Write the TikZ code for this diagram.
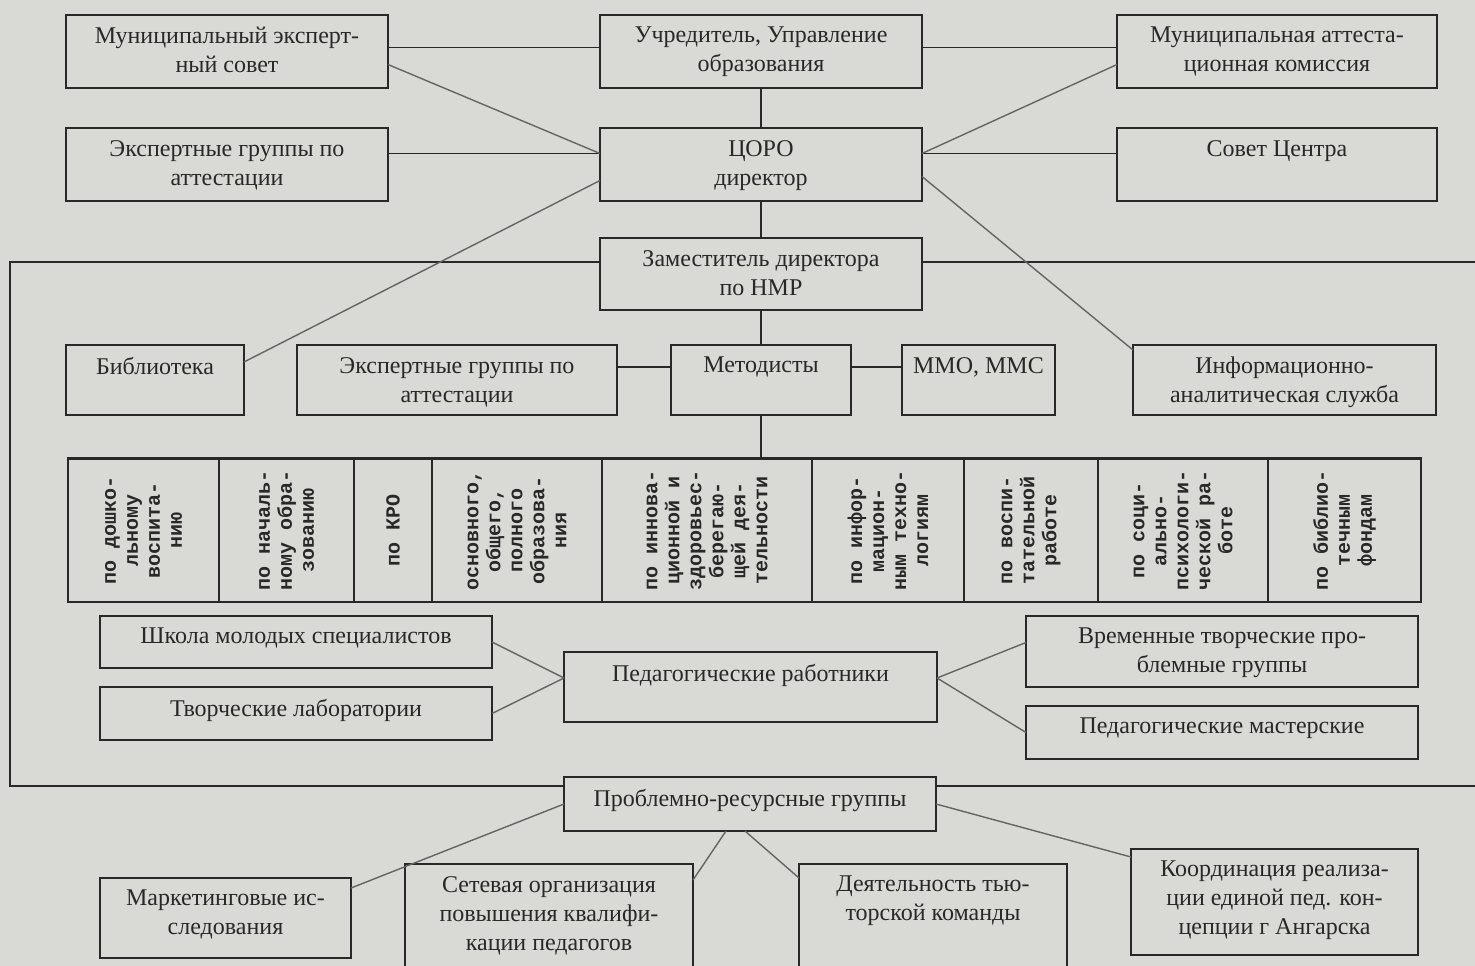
\documentclass[tikz,border=0pt]{standalone}
\usepackage{fontspec}
\setmainfont{Liberation Serif}
\newfontfamily\monofont{Liberation Mono}
\usetikzlibrary{positioning}
\definecolor{paper}{RGB}{217,217,214}
\definecolor{ink}{RGB}{40,40,40}
\definecolor{wire}{RGB}{100,100,100}
\tikzset{
  box/.style={draw=ink, line width=1.5pt, inner sep=0pt, outer sep=0pt},
  txt/.style={below=12pt, align=center, inner sep=0pt, text=ink, font=\fontsize{24}{29}\selectfont},
  cell/.style={box, minimum height=144pt},
  celltext/.style={rotate=90, align=center, inner sep=0pt, text=ink, font=\monofont\bfseries\fontsize{20}{22}\selectfont},
  link/.style={draw=ink, line width=1.4pt},
  slant/.style={draw=wire, line width=1.4pt}
}
\begin{document}
\begin{tikzpicture}[x=1pt,y=-1pt]
\useasboundingbox (0,0) rectangle (1475,966);
\fill[paper] (0,0) rectangle (1475,966);

% top rows
\node[box, minimum width=322pt, minimum height=73pt] (mes) at (227,51.5) {};
\node[txt] (mesT) at (mes.north) {Муниципальный эксперт-\\ный совет};
\node[box, minimum width=322pt, minimum height=73pt] (uchr) at (761,51.5) {};
\node[txt] (uchrT) at (uchr.north) {Учредитель, Управление\\образования};
\node[box, minimum width=320pt, minimum height=73pt] (mac) at (1277,51.5) {};
\node[txt] (macT) at (mac.north) {Муниципальная аттеста-\\ционная комиссия};
\node[box, minimum width=322pt, minimum height=73pt] (egr1) at (227,164.5) {};
\node[txt] (egr1T) at (egr1.north) {Экспертные группы по\\аттестации};
\node[box, minimum width=322pt, minimum height=73pt] (coro) at (761,164.5) {};
\node[txt] (coroT) at (coro.north) {ЦОРО\\директор};
\node[box, minimum width=320pt, minimum height=73pt] (sovet) at (1277,164.5) {};
\node[txt] (sovetT) at (sovet.north) {Совет Центра};
\node[box, minimum width=322pt, minimum height=72pt] (zam) at (761,274) {};
\node[txt] (zamT) at (zam.north) {Заместитель директора\\по НМР};

% second level
\node[box, minimum width=178pt, minimum height=70pt] (bib) at (155,380) {};
\node[txt] (bibT) at (bib.north) {Библиотека};
\node[box, minimum width=320pt, minimum height=70pt] (egr2) at (457,380) {};
\node[txt] (egr2T) at (egr2.north) {Экспертные группы по\\аттестации};
\node[box, minimum width=180pt, minimum height=70pt] (met) at (761,380) {};
\node[txt] (metT) at (met.north) {Методисты};
\node[box, minimum width=153pt, minimum height=70pt] (mmo) at (978.5,380) {};
\node[txt] (mmoT) at (mmo.north) {ММО, ММС};
\node[box, minimum width=303pt, minimum height=70pt] (info) at (1284.5,380) {};
\node[txt] (infoT) at (info.north) {Информационно-\\аналитическая служба};

% methodists row
\foreach \xa/\xb/\ctext [count=\i] in {
  68/219/{по дошко-\\льному\\воспита-\\нию},
  219/354/{по началь-\\ному обра-\\зованию},
  354/432/{по КРО},
  432/602/{основного,\\общего,\\полного\\образова-\\ния},
  602/812/{по иннова-\\ционной и\\здоровьес-\\берегаю-\\щей дея-\\тельности},
  812/964/{по инфор-\\мацион-\\ным техно-\\логиям},
  964/1098/{по воспи-\\тательной\\работе},
  1098/1268/{по соци-\\ально-\\психологи-\\ческой ра-\\боте},
  1268/1421/{по библио-\\течным\\фондам}}
{
  \node[cell, minimum width={(\xb-\xa)*1pt}] (c\i) at ({(\xa+\xb)/2},530) {};
  \node[celltext] (t\i) at (c\i) {\ctext};
}
\draw[ink, line width=3pt] (c1.north west) -- (c9.north east);

% teachers
\node[box, minimum width=392pt, minimum height=52pt] (shk) at (296,642) {};
\node[txt] (shkT) at (shk.north) {Школа молодых специалистов};
\node[box, minimum width=392pt, minimum height=53pt] (tvl) at (296,713.5) {};
\node[txt] (tvlT) at (tvl.north) {Творческие лаборатории};
\node[box, minimum width=373pt, minimum height=70pt] (ped) at (750.5,687) {};
\node[txt] (pedT) at (ped.north) {Педагогические работники};
\node[box, minimum width=392pt, minimum height=71pt] (vtg) at (1222,651.5) {};
\node[txt] (vtgT) at (vtg.north) {Временные творческие про-\\блемные группы};
\node[box, minimum width=392pt, minimum height=53pt] (pm) at (1222,732.5) {};
\node[txt] (pmT) at (pm.north) {Педагогические мастерские};

% resource groups
\node[box, minimum width=372pt, minimum height=54pt] (prg) at (750,804) {};
\node[txt] (prgT) at (prg.north) {Проблемно-ресурсные группы};
\node[box, minimum width=251pt, minimum height=80pt] (mark) at (225.5,918) {};
\node[txt] (markT) at (mark.north) {Маркетинговые ис-\\следования};
\node[box, minimum width=288pt, minimum height=110pt] (set) at (549,919) {};
\node[txt] (setT) at (set.north) {Сетевая организация\\повышения квалифи-\\кации педагогов};
\node[box, minimum width=268pt, minimum height=110pt] (dey) at (933,919) {};
\node[txt] (deyT) at (dey.north) {Деятельность тью-\\торской команды};
\node[box, minimum width=287pt, minimum height=106pt] (koord) at (1274.5,902) {};
\node[txt] (koordT) at (koord.north) {Координация реализа-\\ции единой пед. кон-\\цепции г Ангарска};

% frame
\coordinate (fTL) at (10,262);
\coordinate (fBL) at (10,786);
\coordinate (fTR) at (1475,262);
\coordinate (fBR) at (1475,786);
\draw[link] (zam.west |- fTL) -- (fTL) -- (fBL) -- (prg.west |- fBL);
\draw[link] (zam.east |- fTL) -- (fTR);
\draw[link] (prg.east |- fBR) -- (fBR);

% connectors
\draw[link] ([yshift=4pt]mes.east) -- ([yshift=4pt]uchr.west);
\draw[link] ([yshift=4pt]uchr.east) -- ([yshift=4pt]mac.west);
\draw[link] (uchr) -- (coro);
\draw[link] ([yshift=11pt]egr1.east) -- ([yshift=11pt]coro.west);
\draw[link] ([yshift=11pt]coro.east) -- ([yshift=11pt]sovet.west);
\draw[slant] ([yshift=-13pt]mes.east) -- ([yshift=11pt]coro.west);
\draw[slant] ([yshift=-13pt]mac.west) -- ([yshift=11pt]coro.east);
\draw[slant] ([yshift=-16pt]coro.west) -- ([yshift=18pt]bib.east);
\draw[slant] ([yshift=-12pt]coro.east) -- ([yshift=-5pt]info.north west);
\draw[link] (coro) -- (zam);
\draw[link] (zam) -- (met);
\draw[link] ([yshift=13pt]egr2.east) -- ([yshift=13pt]met.west);
\draw[link] ([yshift=13pt]met.east) -- ([yshift=13pt]mmo.west);
\draw[link] (met.south) -- (met.south |- c5.north);
\draw[slant] (shk.east) -- ([yshift=9pt]ped.west);
\draw[slant] (tvl.east) -- ([yshift=9pt]ped.west);
\draw[slant] ([yshift=9pt]ped.east) -- ([yshift=9pt]vtg.west);
\draw[slant] ([yshift=9pt]ped.east) -- (pm.west);
\draw[slant] (prg.west) -- ([yshift=-10pt]mark.north east);
\draw[slant] ([xshift=-24pt]prg.south) -- ([yshift=-16pt]set.north east);
\draw[slant] ([xshift=-5pt]prg.south) -- ([yshift=-14pt]dey.north west);
\draw[slant] (prg.east) -- ([yshift=-8pt]koord.north west);
\end{tikzpicture}
\end{document}
